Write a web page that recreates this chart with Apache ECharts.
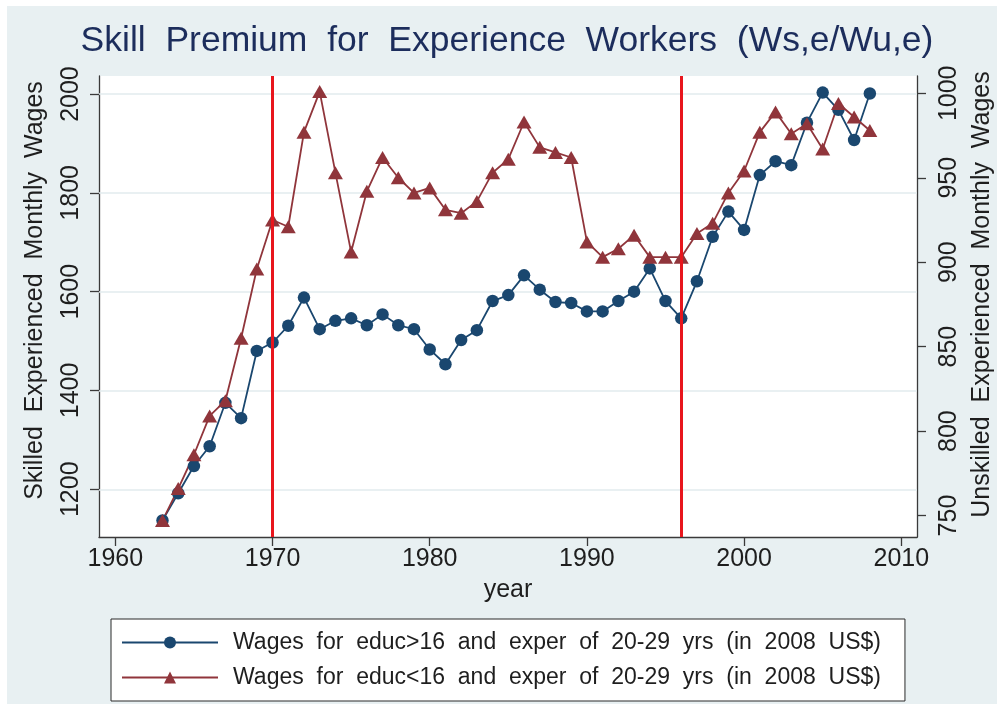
<!DOCTYPE html>
<html>
<head>
<meta charset="utf-8">
<script src="https://cdn.jsdelivr.net/npm/echarts@6/dist/echarts.min.js"></script>
<style>
html,body{margin:0;padding:0;background:#fff;}
#chart{width:997px;height:704px;}
</style>
</head>
<body>
<div id="chart"></div>
<script>
const years = [1963,1964,1965,1966,1967,1968,1969,1970,1971,1972,1973,1974,1975,1976,1977,1978,1979,1980,1981,1982,1983,1984,1985,1986,1987,1988,1989,1990,1991,1992,1993,1994,1995,1996,1997,1998,1999,2000,2001,2002,2003,2004,2005,2006,2007,2008];
const skilledWages = [1137,1192,1247,1287,1375,1344,1480,1497,1531,1588,1524,1541,1546,1532,1554,1532,1524,1483,1453,1502,1522,1581,1593,1633,1604,1579,1577,1560,1560,1581,1600,1647,1581,1546,1621,1711,1762,1725,1836,1864,1856,1942,2003,1968,1907,2001];
const unskilledWages = [747,766,786,809,818,855,896,925,921,977,1001,953,906,942,962,950,941,944,931,929,936,953,961,983,968,965,962,912,903,908,916,903,903,903,917,923,941,954,977,989,976,982,967,994,986,978];
const xTicks = [1960,1970,1980,1990,2000,2010];
const leftTicks = [1200,1400,1600,1800,2000];
const rightTicks = [750,800,850,900,950,1000];
const eventYears = [1970,1996];
const seriesNames = ['Wages  for  educ>16  and  exper  of  20-29  yrs  (in  2008  US$)','Wages  for  educ<16  and  exper  of  20-29  yrs  (in  2008  US$)'];

const FONT = "'Liberation Sans', Arial, Helvetica, sans-serif";
const chart = echarts.init(document.getElementById('chart'), null, {renderer:'canvas'});
const axisCol = '#3a3a3a';
const txtCol = '#1e1e1e';
const plain = v => String(Math.round(v));

const option = {
  backgroundColor:'#ffffff',
  animation:false,
  graphic:[{type:'rect', z:-10, shape:{x:7,y:6,width:990,height:698}, style:{fill:'#E8F0F2'}, silent:true}],
  title:{
    text:'Skill  Premium  for  Experience  Workers  (Ws,e/Wu,e)',
    left:507, top:23, padding:0, textAlign:'center',
    textStyle:{fontFamily:FONT, fontSize:35.5, fontWeight:'normal', color:'#1C2D5C'}
  },
  grid:{left:99, top:76, width:818, height:461, show:true, backgroundColor:'#ffffff', borderWidth:0, outerBoundsMode:'none'},
  legend:{
    orient:'vertical', left:111, top:619,
    padding:[12,24,12,10], itemGap:12, itemWidth:96, itemHeight:15,
    backgroundColor:'#ffffff', borderColor:'#2a2a2a', borderWidth:1, borderRadius:0,
    textStyle:{fontFamily:FONT, fontSize:23, color:txtCol, padding:[0,0,0,10]},
    data:seriesNames
  },
  xAxis:{
    type:'value', min:1958.96, max:2011.0,
    name:'year', nameLocation:'middle', nameGap:41,
    nameTextStyle:{fontFamily:FONT, fontSize:25, color:txtCol},
    axisLine:{show:true, lineStyle:{color:axisCol, width:1.3}},
    axisTick:{show:true, length:9, customValues:xTicks, lineStyle:{color:axisCol, width:1.3}},
    axisLabel:{customValues:xTicks, formatter:plain, margin:10, fontFamily:FONT, fontSize:25, color:txtCol},
    splitLine:{show:false}
  },
  yAxis:[{
    type:'value', position:'left', min:1103.4, max:2036.5,
    name:'Skilled  Experienced  Monthly  Wages', nameLocation:'middle', nameRotate:90, nameGap:51,
    nameTextStyle:{fontFamily:FONT, fontSize:25, color:txtCol, padding:[0,0,0,32]},
    axisLine:{show:true, lineStyle:{color:axisCol, width:1.3}},
    axisTick:{show:true, length:9, customValues:leftTicks, lineStyle:{color:axisCol, width:1.3}},
    axisLabel:{customValues:leftTicks, formatter:plain, rotate:90, margin:15, fontFamily:FONT, fontSize:25, color:txtCol},
    splitLine:{show:false}
  },{
    type:'value', position:'right', min:737.3, max:1010.25,
    name:'Unskilled  Experienced  Monthly  Wages', nameLocation:'middle', nameRotate:90, nameGap:44,
    nameTextStyle:{fontFamily:FONT, fontSize:25, color:txtCol, padding:[0,0,0,24]},
    axisLine:{show:true, lineStyle:{color:axisCol, width:1.3}},
    axisTick:{show:true, length:9, customValues:rightTicks, lineStyle:{color:axisCol, width:1.3}},
    axisLabel:{customValues:rightTicks, formatter:plain, rotate:90, margin:20, fontFamily:FONT, fontSize:25, color:txtCol},
    splitLine:{show:false}
  }],
  series:[{
    name:seriesNames[0], type:'line', xAxisIndex:0, yAxisIndex:0,
    data:years.map((y,i)=>[y, skilledWages[i]]),
    symbol:'circle', symbolSize:12.5, showAllSymbol:true, clip:false,
    lineStyle:{color:'#1A476F', width:1.8},
    itemStyle:{color:'#1A476F'},
    emphasis:{disabled:true},
    markLine:{
      silent:true, symbol:'none', z:1, animation:false,
      label:{show:false},
      lineStyle:{color:'#E2EBEE', width:1.6, type:'solid'},
      emphasis:{disabled:true},
      data:leftTicks.map(v=>({yAxis:v}))
    }
  },{
    name:seriesNames[1], type:'line', xAxisIndex:0, yAxisIndex:1,
    data:years.map((y,i)=>[y, unskilledWages[i]]),
    symbol:'triangle', symbolSize:[15,13], showAllSymbol:true, clip:false,
    lineStyle:{color:'#90353B', width:1.8},
    itemStyle:{color:'#90353B'},
    emphasis:{disabled:true},
    markLine:{
      silent:true, symbol:'none', animation:false,
      label:{show:false},
      lineStyle:{color:'#E8161D', width:3, type:'solid'},
      emphasis:{disabled:true},
      data:eventYears.map(v=>({xAxis:v}))
    }
  }]
};
chart.setOption(option);
</script>
</body>
</html>
